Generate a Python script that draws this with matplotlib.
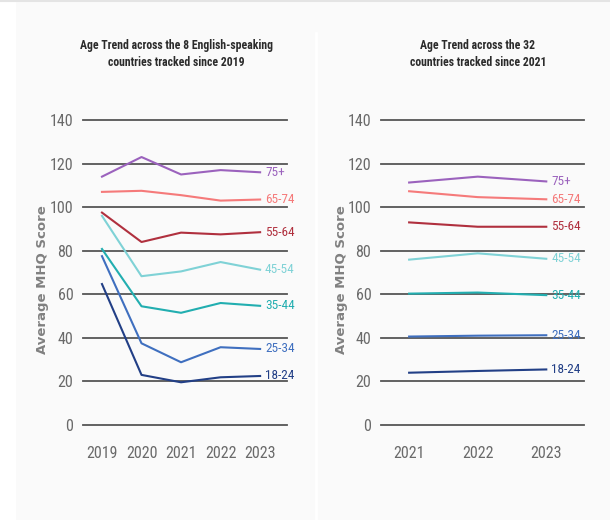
import matplotlib
matplotlib.use("Agg")
import matplotlib.pyplot as plt
from matplotlib.patches import Rectangle
from matplotlib.lines import Line2D

plt.rcParams['font.family'] = ['Roboto Condensed', 'DejaVu Sans']

# age groups, labels and colours
groups = ['75+', '65-74', '55-64', '45-54', '35-44', '25-34', '18-24']
colors = ['#9b62bd', '#f57a7a', '#b0303e', '#7fd2d6', '#22aeb0', '#3f6fbf', '#223f86']

# left panel: 8 English-speaking countries since 2019
years_a = [2019, 2020, 2021, 2022, 2023]
scores_a = {
    '75+':   [114, 123, 115, 117, 116],
    '65-74': [107, 107.5, 105.5, 103, 103.5],
    '55-64': [97.5, 84, 88.3, 87.5, 88.5],
    '45-54': [96, 68.3, 70.5, 74.8, 71.3],
    '35-44': [80.8, 54.5, 51.5, 56, 54.7],
    '25-34': [77.5, 37.5, 28.8, 35.7, 34.9],
    '18-24': [64.7, 23, 19.6, 21.9, 22.5],
}

# right panel: 32 countries since 2021
years_b = [2021, 2022, 2023]
scores_b = {
    '75+':   [111.3, 114, 111.8],
    '65-74': [107.3, 104.6, 103.6],
    '55-64': [93, 91, 91],
    '45-54': [75.9, 78.8, 76.3],
    '35-44': [60.3, 60.8, 59.6],
    '25-34': [40.6, 41, 41.2],
    '18-24': [24, 24.8, 25.5],
}

yticks = [0, 20, 40, 60, 80, 100, 120, 140]

W, H = 610, 520
fig = plt.figure(figsize=(W / 100, H / 100), dpi=100, facecolor='#fafafa')

# page background details
fig.add_artist(Rectangle((0, 0), 16 / W, 1, transform=fig.transFigure,
                         facecolor='white', edgecolor='none'))
fig.add_artist(Line2D([0, 1], [1 - 1 / H, 1 - 1 / H], transform=fig.transFigure,
                      color='#e4e4e4', lw=1.5))
fig.add_artist(Line2D([316 / W, 316 / W], [0, 1 - 33 / H], transform=fig.transFigure,
                      color='white', lw=2))


def panel(x0, x1, xlim, years, scores, title, title_x):
    ax = fig.add_axes([x0 / W, 1 - 425 / H, (x1 - x0) / W, 305 / H])
    ax.set_facecolor('none')
    ax.set_xlim(*xlim)
    ax.set_ylim(0, 140)
    for v in yticks:
        ax.axhline(v, color='#555555', lw=1.3, zorder=1, clip_on=False)
    for g, c in zip(groups, colors):
        vals = scores[g]
        ax.plot(years, vals, color=c, lw=1.5, zorder=3, clip_on=False)
        ax.annotate(g, (years[-1], vals[-1]), xytext=(3.5, 0), textcoords='offset points',
                    color=c, fontsize=9.5, va='center', ha='left')
    for s in ax.spines.values():
        s.set_visible(False)
    ax.set_yticks(yticks)
    ax.set_xticks(years)
    ax.set_xticklabels([str(y) for y in years])
    ax.tick_params(length=0, labelsize=11.5, labelcolor='#6a6a6a')
    ax.tick_params(axis='y', pad=7)
    ax.tick_params(axis='x', pad=15)
    ax.set_ylabel('Average MHQ Score', family='DejaVu Sans', fontsize=9.5,
                  fontweight='bold', color='#808080')
    ax.yaxis.set_label_coords(-33.5 / (x1 - x0), 0.475)
    fig.text(title_x / W, 1 - 54 / H, title, ha='center', va='center',
             fontsize=8.5, fontweight='bold', color='#2b2b2b', linespacing=1.45)
    return ax


panel(83, 287, (2018.52, 2023.68), years_a, scores_a,
      'Age Trend across the 8 English-speaking\ncountries tracked since 2019', 176)
panel(381, 584, (2020.59, 2023.55), years_b, scores_b,
      'Age Trend across the 32\ncountries tracked since 2021', 478)

fig.savefig('out.png', dpi=100, facecolor=fig.get_facecolor())
